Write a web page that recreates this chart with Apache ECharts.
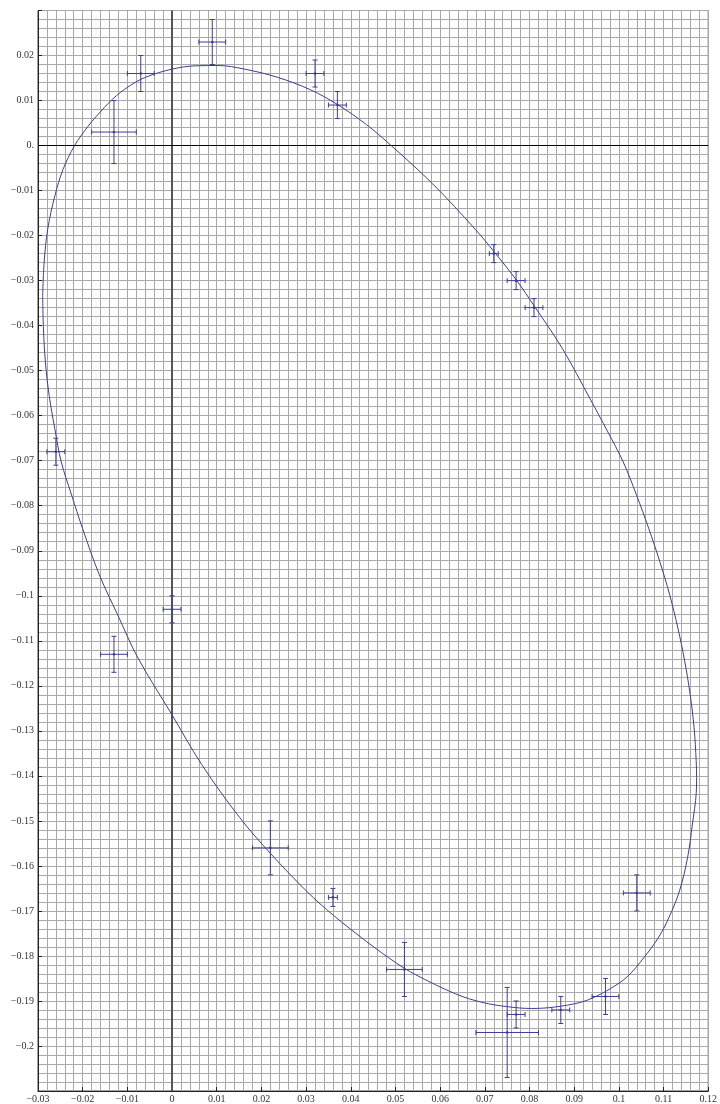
<!DOCTYPE html>
<html>
<head>
<meta charset="utf-8">
<script src="https://cdn.jsdelivr.net/npm/echarts@6/dist/echarts.min.js"></script>
<style>
html,body{margin:0;padding:0;background:#fff;}
#chart{width:720px;height:1104px;}
</style>
</head>
<body>
<div id="chart"></div>
<script>
// Measured points with error bars
const ptX  = [-0.013, -0.007, 0.009, 0.032, 0.037, 0.072, 0.077, 0.081, -0.026, 0.000, -0.013, 0.022, 0.036, 0.052, 0.075, 0.077, 0.087, 0.097, 0.104];
const ptY  = [0.003, 0.016, 0.023, 0.016, 0.009, -0.024, -0.030, -0.036, -0.068, -0.103, -0.113, -0.156, -0.167, -0.183, -0.197, -0.193, -0.192, -0.189, -0.166];
const errX = [0.005, 0.003, 0.003, 0.002, 0.002, 0.001, 0.002, 0.002, 0.002, 0.002, 0.003, 0.004, 0.001, 0.004, 0.007, 0.002, 0.002, 0.003, 0.003];
const errY = [0.007, 0.004, 0.005, 0.003, 0.003, 0.002, 0.002, 0.002, 0.003, 0.003, 0.004, 0.006, 0.002, 0.006, 0.010, 0.003, 0.003, 0.004, 0.004];

// Fitted curve (clockwise from the leftmost point)
const curveX = [-0.02896, -0.02863, -0.02783, -0.02624, -0.02440, -0.02181, -0.01886, -0.01700, -0.01333, -0.00963, -0.00593, 0.00000, 0.00514, 0.01030, 0.01621, 0.02358, 0.03095, 0.03708, 0.04351, 0.04904, 0.05834, 0.06786, 0.07207, 0.07716, 0.08114, 0.08741, 0.09354, 0.09753, 0.10096, 0.10395, 0.10667, 0.10915, 0.11137, 0.11320, 0.11473, 0.11595, 0.11683, 0.11730, 0.11739, 0.11732, 0.11646, 0.11539, 0.11362, 0.11125, 0.10893, 0.10572, 0.10184, 0.09813, 0.09443, 0.09148, 0.08557, 0.08041, 0.07523, 0.06934, 0.06343, 0.05458, 0.05015, 0.04351, 0.03613, 0.03022, 0.02210, 0.01510, 0.00664, -0.00022, -0.00764, -0.01218, -0.01627, -0.02004, -0.02247, -0.02480, -0.02624, -0.02750, -0.02834, -0.02878];
const curveY = [-0.03337, -0.02597, -0.01860, -0.01123, -0.00531, 0.00000, 0.00421, 0.00642, 0.01030, 0.01317, 0.01517, 0.01698, 0.01771, 0.01778, 0.01698, 0.01517, 0.01240, 0.00908, 0.00465, 0.00000, -0.00852, -0.01860, -0.02358, -0.03000, -0.03576, -0.04517, -0.05624, -0.06361, -0.07025, -0.07765, -0.08502, -0.09239, -0.09979, -0.10716, -0.11453, -0.12193, -0.12930, -0.13667, -0.14037, -0.14369, -0.15071, -0.15808, -0.16539, -0.17136, -0.17579, -0.18022, -0.18465, -0.18724, -0.18919, -0.19030, -0.19136, -0.19167, -0.19129, -0.19030, -0.18841, -0.18420, -0.18155, -0.17679, -0.17099, -0.16572, -0.15731, -0.14922, -0.13749, -0.12609, -0.11380, -0.10421, -0.09536, -0.08502, -0.07765, -0.07025, -0.06288, -0.05551, -0.04811, -0.04074];

// Tick labels
const xTickLabels = ['\u22120.03','\u22120.02','\u22120.01','0','0.01','0.02','0.03','0.04','0.05','0.06','0.07','0.08','0.09','0.1','0.11','0.12'];
const yTickLabels = ['','\u22120.2','\u22120.19','\u22120.18','\u22120.17','\u22120.16','\u22120.15','\u22120.14','\u22120.13','\u22120.12','\u22120.11','\u22120.1','\u22120.09','\u22120.08','\u22120.07','\u22120.06','\u22120.05','\u22120.04','\u22120.03','\u22120.02','\u22120.01','0.','0.01','0.02',''];

const X_MIN = -0.03, X_MAX = 0.12, Y_MIN = -0.21, Y_MAX = 0.03, STEP = 0.01;
const BLUE = '#3d3d99';
const FONT = "'Liberation Serif', 'Times New Roman', serif";

const curveData = curveX.map((x, i) => [x, curveY[i]]);
curveData.push(curveData[0]);
const errData = ptX.map((x, i) => [x, ptY[i], errX[i], errY[i]]);

const gridStyle = {color: '#a9a9a9', width: 1};

const chart = echarts.init(document.getElementById('chart'), null, {renderer: 'canvas'});
chart.setOption({
  animation: false,
  backgroundColor: '#fff',
  grid: {left: 38, right: 4.5, top: 10.5, bottom: 9.5, show: true, borderColor: '#444', borderWidth: 1, backgroundColor: 'transparent'},
  xAxis: {
    type: 'value', min: X_MIN, max: X_MAX, interval: STEP,
    axisLine: {show: true, onZero: false, lineStyle: {color: '#222', width: 1}},
    axisTick: {show: true, inside: true, length: 4, lineStyle: {color: '#222'}},
    minorTick: {show: false, splitNumber: 5},
    splitLine: {show: true, lineStyle: gridStyle},
    minorSplitLine: {show: true, lineStyle: gridStyle},
    axisLabel: {
      margin: 3, fontSize: 10, fontFamily: FONT, color: '#333', showMinLabel: true, showMaxLabel: true,
      formatter: v => xTickLabels[Math.round((v - X_MIN) / STEP)] ?? ''
    }
  },
  yAxis: {
    type: 'value', min: Y_MIN, max: Y_MAX, interval: STEP,
    axisLine: {show: true, onZero: false, lineStyle: {color: '#222', width: 1}},
    axisTick: {show: true, inside: true, length: 4, lineStyle: {color: '#222'}},
    minorTick: {show: false, splitNumber: 5},
    splitLine: {show: true, lineStyle: gridStyle},
    minorSplitLine: {show: true, lineStyle: gridStyle},
    axisLabel: {
      margin: 4, fontSize: 10, fontFamily: FONT, color: '#333', showMinLabel: true, showMaxLabel: true,
      formatter: v => yTickLabels[Math.round((v - Y_MIN) / STEP)] ?? ''
    }
  },
  series: [
    {
      type: 'line',
      data: curveData,
      showSymbol: false,
      smooth: 0.35,
      lineStyle: {color: BLUE, width: 1},
      z: 3,
      markLine: {
        silent: true,
        symbol: ['none', 'none'],
        label: {show: false},
        z: 2,
        data: [
          {xAxis: 0, lineStyle: {color: '#555', width: 2, type: 'solid'}},
          {yAxis: 0, lineStyle: {color: '#000', width: 1, type: 'solid'}}
        ]
      }
    },
    {
      type: 'custom',
      z: 4,
      data: errData,
      renderItem: function (params, api) {
        const x = api.value(0), y = api.value(1), ex = api.value(2), ey = api.value(3);
        const c = api.coord([x, y]);
        const l = api.coord([x - ex, y]);
        const r = api.coord([x + ex, y]);
        const t = api.coord([x, y + ey]);
        const b = api.coord([x, y - ey]);
        const cap = 2.5;
        const st = {stroke: BLUE, lineWidth: 1};
        const ln = (x1, y1, x2, y2) => ({type: 'line', shape: {x1, y1, x2, y2}, style: st});
        return {
          type: 'group',
          children: [
            ln(l[0], l[1], r[0], r[1]),
            ln(t[0], t[1], b[0], b[1]),
            ln(l[0], l[1] - cap, l[0], l[1] + cap),
            ln(r[0], r[1] - cap, r[0], r[1] + cap),
            ln(t[0] - cap, t[1], t[0] + cap, t[1]),
            ln(b[0] - cap, b[1], b[0] + cap, b[1]),
            {type: 'circle', shape: {cx: c[0], cy: c[1], r: 1.3}, style: {fill: BLUE}}
          ]
        };
      }
    }
  ]
});
</script>
</body>
</html>
